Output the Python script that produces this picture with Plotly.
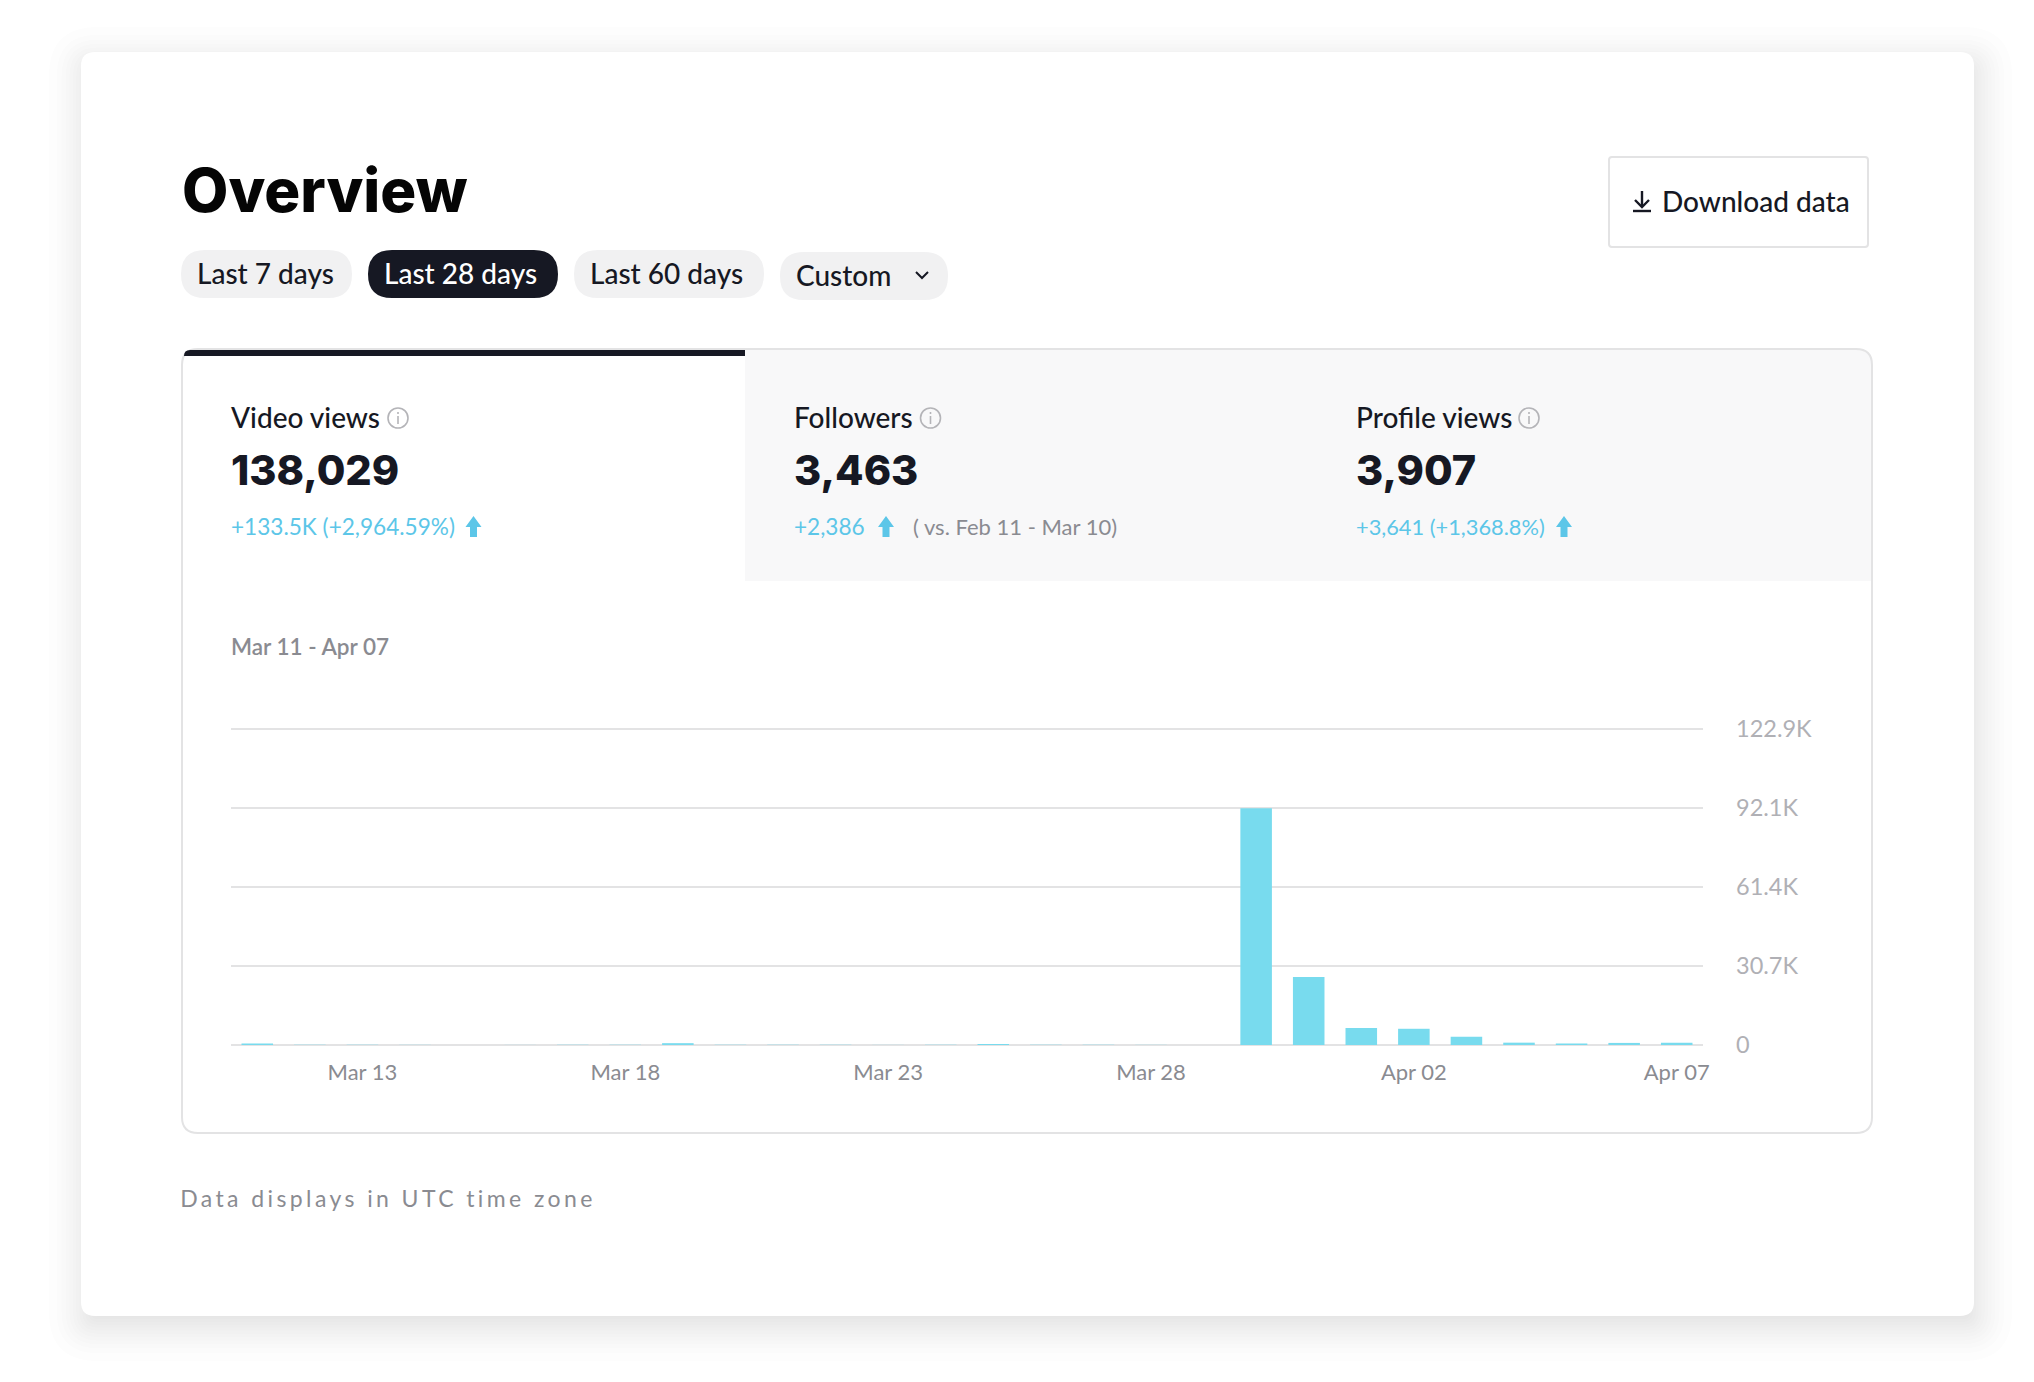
import plotly.graph_objects as go

W, H = 2034, 1382
FONT = "Lato"
HEAVY = "Inter"
DARK = "#161823"
CYAN = "#5cc6e8"
GREY = "#8a8b91"
BORDER = "#e3e3e4"

# chart data
days = ["Mar 11", "Mar 12", "Mar 13", "Mar 14", "Mar 15", "Mar 16", "Mar 17", "Mar 18", "Mar 19", "Mar 20",
        "Mar 21", "Mar 22", "Mar 23", "Mar 24", "Mar 25", "Mar 26", "Mar 27", "Mar 28", "Mar 29", "Mar 30",
        "Mar 31", "Apr 01", "Apr 02", "Apr 03", "Apr 04", "Apr 05", "Apr 06", "Apr 07"]
video_views = [600, 100, 40, 60, 30, 30, 120, 40, 700, 100,
               100, 100, 40, 40, 400, 100, 100, 50, 30, 92100,
               26400, 6600, 6300, 3200, 900, 600, 800, 900]
x_ticks = ["Mar 13", "Mar 18", "Mar 23", "Mar 28", "Apr 02", "Apr 07"]
y_ticks = [0, 30700, 61400, 92100, 122900]
y_tick_labels = ["0", "30.7K", "61.4K", "92.1K", "122.9K"]

# tab contents
tab_names = ["Video views", "Followers", "Profile views"]
tab_totals = ["138,029", "3,463", "3,907"]
tab_changes = ["+133.5K (+2,964.59%)", "+2,386", "+3,641 (+1,368.8%)"]
change_sizes = [22.6, 22.6, 21.8]
tab_x = [230, 793, 1355]
info_x = [398, 930.5, 1529]
arrow_x = [473.5, 886, 1564]
range_pills = ["Last 7 days", "Last 28 days", "Last 60 days", "Custom"]


def px(x):
    return x / W


def py(y):
    return 1 - y / H


def round_rect(x0, y0, x1, y1, r):
    # rounded rectangle as a paper-coordinate svg path, r can differ per corner
    tl, tr, br, bl = r if isinstance(r, (list, tuple)) else (r, r, r, r)
    P = lambda x, y: f"{px(x):.6f},{py(y):.6f}"
    return (f"M{P(x0 + tl, y0)} L{P(x1 - tr, y0)} Q{P(x1, y0)} {P(x1, y0 + tr)} "
            f"L{P(x1, y1 - br)} Q{P(x1, y1)} {P(x1 - br, y1)} "
            f"L{P(x0 + bl, y1)} Q{P(x0, y1)} {P(x0, y1 - bl)} "
            f"L{P(x0, y0 + tl)} Q{P(x0, y0)} {P(x0 + tl, y0)} Z")


def poly(points, close=False):
    s = "M" + " L".join(f"{px(x):.6f},{py(y):.6f}" for x, y in points)
    return s + (" Z" if close else "")


shapes = []


def add_path(path, fill="rgba(0,0,0,0)", line=None, width=0):
    shapes.append(dict(type="path", path=path, xref="paper", yref="paper", layer="below",
                       fillcolor=fill, line=dict(color=line or "rgba(0,0,0,0)", width=width)))


annotations = []


def label(x, y, text, size, color, weight=400, anchor="left", family=FONT):
    annotations.append(dict(x=px(x), y=py(y), xref="paper", yref="paper", text=text, showarrow=False,
                            xanchor=anchor, yanchor="middle", borderpad=0,
                            font=dict(family=family, size=size, color=color, weight=weight)))


# card shadow, stacked faint layers offset down and to the right, sparser further out
for k in range(24):
    grow = 35 * (1 - 2 * (k / 23) ** 0.7)
    add_path(round_rect(84 - grow, 62 - grow, 1977 + grow, 1326 + grow, max(14 + grow, 4)),
             fill="rgba(55,75,80,0.01)")
add_path(round_rect(81, 52, 1974, 1316, 14), fill="#ffffff")

# header
label(181, 190, "Overview", 60, "#050505", 800, family=HEAVY)
pills = [(181, 352, 250, 298), (368, 558, 250, 298), (574, 764, 250, 298), (780, 948, 252, 300)]
for i, (x0, x1, y0, y1) in enumerate(pills):
    active = i == 1
    add_path(round_rect(x0, y0, x1, y1, 24), fill=DARK if active else "#f1f1f2")
    label(x0 + 15, (y0 + y1) / 2 - 1, range_pills[i], 28, "#ffffff" if active else DARK, 500)
add_path(poly([(916, 272), (922, 278), (928, 272)]), line=DARK, width=2)

# download button
add_path(round_rect(1609, 157, 1868, 247, 3), fill="#ffffff", line=BORDER, width=2)
add_path(poly([(1642, 191), (1642, 207)]), line=DARK, width=2.4)
add_path(poly([(1635, 200), (1642, 207), (1649, 200)]), line=DARK, width=2.4)
add_path(poly([(1633, 211), (1651, 211)]), line=DARK, width=2.4)
label(1661, 201, "Download data", 28, DARK, 500)

# metric panel
add_path(round_rect(745, 350, 1872, 581, [0, 14, 0, 0]), fill="#f8f8f9")
add_path(round_rect(182, 349, 1872, 1133, 16), line=BORDER, width=2)
add_path(round_rect(184, 350, 745, 356, [6, 0, 0, 0]), fill=DARK)

for i in range(3):
    label(tab_x[i], 417, tab_names[i], 28, DARK, 500)
    label(tab_x[i], 470, tab_totals[i], 41.5, DARK, 800, family=HEAVY)
    label(tab_x[i], 526, tab_changes[i], change_sizes[i], CYAN, 400)
    # info icon
    cx = info_x[i]
    shapes.append(dict(type="circle", xref="paper", yref="paper", layer="below",
                       x0=px(cx - 10), x1=px(cx + 10), y0=py(428), y1=py(408),
                       line=dict(color="#b4b4b8", width=1.6), fillcolor="rgba(0,0,0,0)"))
    add_path(poly([(cx, 416), (cx, 424)]), line="#b4b4b8", width=1.6)
    add_path(poly([(cx, 412), (cx, 414)]), line="#b4b4b8", width=1.6)
    # up arrow
    ax = arrow_x[i]
    add_path(poly([(ax, 516), (ax + 8, 527), (ax + 3.5, 527), (ax + 3.5, 537),
                   (ax - 3.5, 537), (ax - 3.5, 527), (ax - 8, 527)], close=True), fill=CYAN)
label(912, 526, "( vs. Feb 11 - Mar 10)", 22, GREY, 400)

label(230, 646, "Mar 11 - Apr 07", 22.5, GREY, 600)
label(388, 1198, "Data displays in UTC time zone", 23, GREY, 400, anchor="center")

# alpha just under 1 makes plotly round bars to whole pixels, so sub-pixel days stay invisible
fig = go.Figure(go.Bar(x=days, y=video_views, marker=dict(color="rgba(120,219,238,0.999)", line=dict(width=0))))

fig.update_layout(
    width=W, height=H,
    margin=dict(l=0, r=0, t=0, b=0, autoexpand=False),
    paper_bgcolor="#ffffff",
    plot_bgcolor="rgba(0,0,0,0)",
    showlegend=False,
    bargap=0.4,
    shapes=shapes,
    annotations=annotations,
)
fig.update_xaxes(
    domain=[px(231), px(1703)],
    type="category",
    categoryorder="array",
    categoryarray=days,
    tickmode="array",
    tickvals=x_ticks,
    ticktext=x_ticks,
    ticks="",
    showgrid=False,
    showline=False,
    ticklabelstandoff=11,
    tickfont=dict(family=FONT, size=22, color=GREY, weight=400),
)
# range runs slightly past the end ticks so those gridlines still get drawn
fig.update_yaxes(
    domain=[py(1046), py(728)],
    side="right",
    range=[-400, 123300],
    tickmode="array",
    tickvals=y_ticks,
    ticktext=y_tick_labels,
    ticks="",
    showgrid=True,
    gridcolor=BORDER,
    gridwidth=2,
    zeroline=False,
    showline=False,
    ticklabelstandoff=32,
    tickfont=dict(family=FONT, size=23.5, color="#b0b0b5", weight=400),
)

# footer has wide letter spacing, plotly has no font option for it
post = """
document.body.style.margin = '0';
document.querySelectorAll('.annotation-text').forEach(function (t) {
    if (t.textContent.indexOf('Data displays') === 0) { t.style.letterSpacing = '3.4px'; }
});
"""

fig.write_html("out.html", config={"displayModeBar": False}, post_script=post)
